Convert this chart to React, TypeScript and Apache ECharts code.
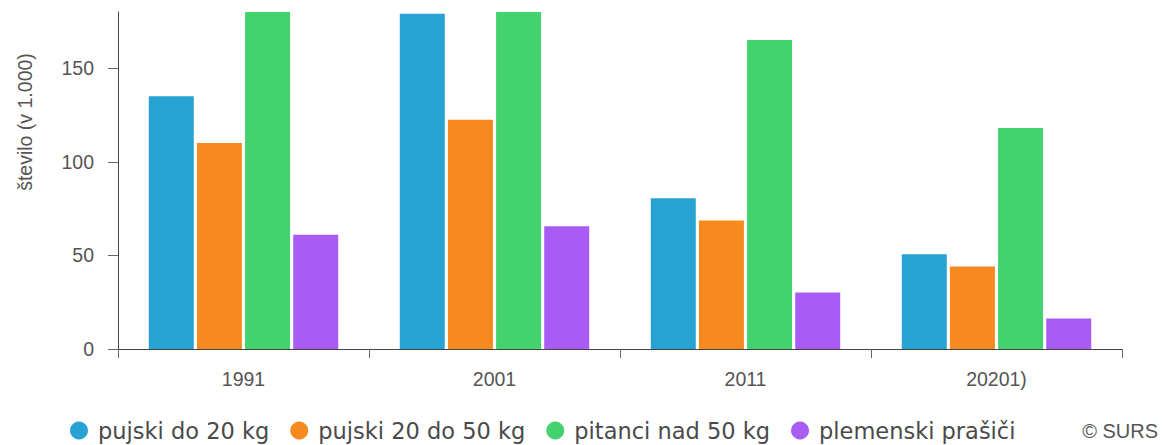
import React, { useEffect, useRef } from "react";
import * as echarts from "echarts";

const categories = ["1991", "2001", "2011", "20201)"];
const seriesNames = ["pujski do 20 kg", "pujski 20 do 50 kg", "pitanci nad 50 kg", "plemenski prašiči"];
const pujskiDo20 = [135, 179, 80.5, 50.6];
const pujski20do50 = [110, 122.5, 68.7, 44.1];
const pitanciNad50 = [252, 238, 165, 118];
const plemenskiPrasici = [61, 65.5, 30.2, 16.3];
const yTicks = [0, 50, 100, 150];
const colors = ["#27a2d2", "#f68a1f", "#44d26e", "#a85cf4"];
const yAxisTitle = "število (v 1.000)";
const sourceText = "© SURS";

export default function App() {
  const ref = useRef<HTMLDivElement>(null);
  useEffect(() => {
    document.body.style.margin = "0";
    const chart = echarts.init(ref.current!, null, { renderer: "svg" });
    const values = [pujskiDo20, pujski20do50, pitanciNad50, plemenskiPrasici];
    chart.setOption({
      animation: false,
      color: colors,
      grid: { left: 118, right: 41, top: 12, bottom: 96, containLabel: false },
      legend: {
        left: 70,
        top: 419,
        padding: 0,
        icon: "circle",
        itemWidth: 28,
        itemHeight: 18,
        itemGap: 21,
        textStyle: { fontFamily: "DejaVu Sans", fontSize: 22.5, color: "#4a4a4a" },
        data: seriesNames,
      },
      xAxis: {
        type: "category",
        data: categories,
        axisLine: { lineStyle: { color: "#444", width: 1 } },
        axisTick: { show: true, length: 9, lineStyle: { color: "#666" } },
        axisLabel: { margin: 20, fontFamily: "Liberation Sans", fontSize: 19.5, color: "#555" },
      },
      yAxis: {
        type: "value",
        min: 0,
        max: 180,
        interval: 50,
        splitLine: { show: false },
        axisLine: { show: true, lineStyle: { color: "#444", width: 1 } },
        axisTick: { show: true, length: 10, lineStyle: { color: "#666" }, customValues: yTicks },
        axisLabel: { margin: 24, fontFamily: "Liberation Sans", fontSize: 19.5, color: "#555", customValues: yTicks },
      },
      graphic: [
        {
          type: "text",
          x: 25,
          y: 122,
          rotation: Math.PI / 2,
          style: {
            text: yAxisTitle,
            fontFamily: "Liberation Sans",
            fontSize: 19.5,
            fill: "#555",
            textAlign: "center",
            textVerticalAlign: "middle",
          },
        },
        {
          type: "text",
          right: 5,
          top: 421,
          style: {
            text: sourceText,
            fontFamily: "Liberation Sans",
            fontSize: 20,
            fill: "#555",
          },
        },
      ],
      series: seriesNames.map((name, i) => ({
        name,
        type: "bar",
        data: values[i],
        barWidth: 45,
        barGap: "7%",
        clip: true,
      })),
    });
    return () => chart.dispose();
  }, []);
  return <div ref={ref} style={{ width: 1163, height: 445 }} />;
}
